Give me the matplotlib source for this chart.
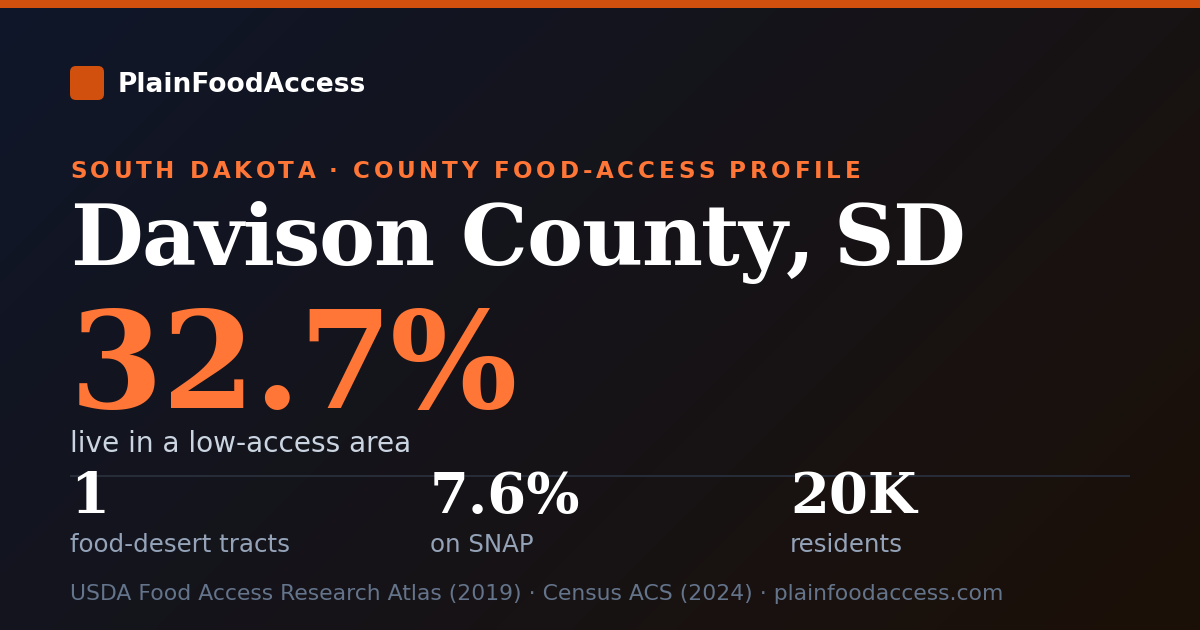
"""Social card for the Davison County food-access profile."""

import matplotlib

matplotlib.use("Agg")

import matplotlib.pyplot as plt
import numpy as np
from matplotlib.font_manager import FontProperties
from matplotlib.patches import FancyBboxPatch, Rectangle


W, H = 1200, 630
PX = 0.72  # points per pixel at dpi=100

BRAND = "PlainFoodAccess"
KICKER = "SOUTH DAKOTA · COUNTY FOOD-ACCESS PROFILE"
COUNTY = "Davison County, SD"
HEADLINE_VALUE = "32.7%"
HEADLINE_LABEL = "live in a low-access area"
STAT_VALUES = ["1", "7.6%", "20K"]
STAT_LABELS = ["food-desert tracts", "on SNAP", "residents"]
SOURCE = (
    "USDA Food Access Research Atlas (2019) · Census ACS (2024) · "
    "plainfoodaccess.com"
)

BG_START = np.array([15, 23, 42]) / 255
BG_END = np.array([28, 16, 7]) / 255
ACCENT = "#d2500d"
ORANGE = "#ff7637"
WHITE = "#ffffff"
SOFT = "#cbd5e1"
MUTED = "#94a3b8"
FAINT = "#64748b"
RULE = "#262c38"


def font(family, size_px, weight="normal"):
    return FontProperties(family=family, weight=weight, size=size_px * PX)


def spaced_text(ax, renderer, x, y, text, props, spacing_px, **kwargs):
    """Draw text with letter spacing, one character at a time."""

    for i, ch in enumerate(text):
        prefix = text[:i]
        offset = 0.0
        if prefix:
            offset = renderer.get_text_width_height_descent(
                prefix, props, ismath=False
            )[0]
        ax.text(
            x + offset + i * spacing_px,
            y,
            ch,
            fontproperties=props,
            va="baseline",
            ha="left",
            **kwargs,
        )


fig = plt.figure(figsize=(W / 100, H / 100), dpi=100)
ax = fig.add_axes([0, 0, 1, 1])
ax.set_xlim(0, W)
ax.set_ylim(H, 0)
ax.axis("off")

# diagonal background gradient
gx, gy = np.meshgrid(np.linspace(0, 1, 300), np.linspace(0, 1, 160))
t = np.clip((gx * W + gy * H) / (W + H), 0, 1)[..., None]
ax.imshow(
    BG_START * (1 - t) + BG_END * t,
    extent=(0, W, H, 0),
    aspect="auto",
    interpolation="bilinear",
    zorder=0,
)

ax.add_patch(Rectangle((0, 0), W, 8, color=ACCENT, lw=0, zorder=2))

# brand mark
ax.add_patch(
    FancyBboxPatch(
        (70, 66),
        34,
        34,
        boxstyle="round,pad=0,rounding_size=6",
        color=ACCENT,
        lw=0,
        zorder=2,
    )
)

fig.canvas.draw()
renderer = fig.canvas.get_renderer()

ax.text(118, 92, BRAND, fontproperties=font("DejaVu Sans", 26.5, "bold"),
        color=WHITE, va="baseline", zorder=3)
spaced_text(ax, renderer, 70, 178, KICKER,
            font("DejaVu Sans", 23, "bold"), 3.7, color=ORANGE, zorder=3)
spaced_text(ax, renderer, 70, 265, COUNTY,
            font("DejaVu Serif", 84, "bold"), -1.35, color=WHITE, zorder=3)
spaced_text(ax, renderer, 70, 408, HEADLINE_VALUE,
            font("DejaVu Serif", 134, "bold"), -1.6, color=ORANGE, zorder=3)

ax.text(70, 452, HEADLINE_LABEL, fontproperties=font("DejaVu Sans", 28),
        color=SOFT, va="baseline", zorder=3)

ax.plot([70, 1130], [475.5, 475.5], color=RULE, lw=2 * PX, zorder=2,
        solid_capstyle="butt")

for i, (value, label) in enumerate(zip(STAT_VALUES, STAT_LABELS)):
    x = 70 + i * 360
    ax.text(x, 513, value, fontproperties=font("DejaVu Serif", 56, "bold"),
            color=WHITE, va="baseline", zorder=3)
    ax.text(x, 552, label, fontproperties=font("DejaVu Sans", 24.5),
            color=MUTED, va="baseline", zorder=3)

ax.text(70, 600, SOURCE, fontproperties=font("DejaVu Sans", 21.9),
        color=FAINT, va="baseline", zorder=3)

fig.savefig("out.png", dpi=100, facecolor=BG_START)
